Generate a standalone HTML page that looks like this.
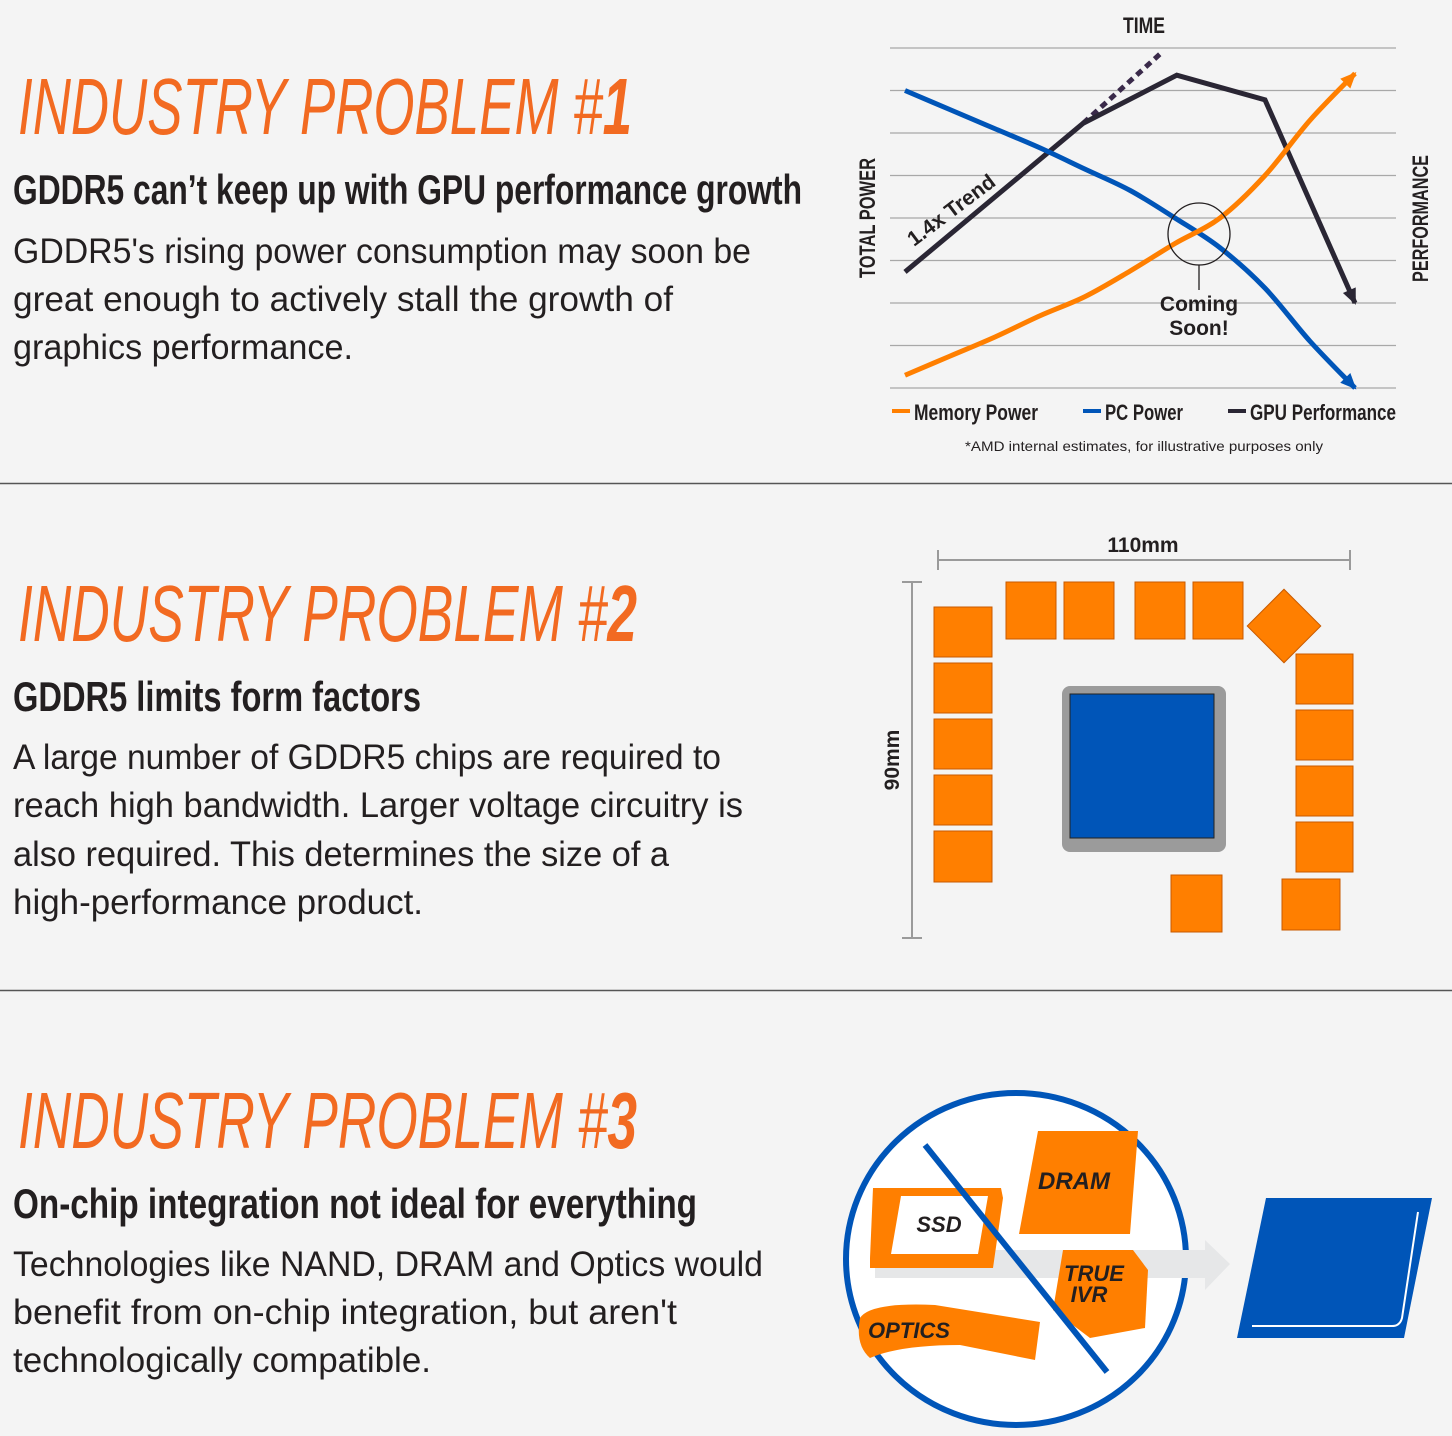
<!DOCTYPE html>
<html><head><meta charset="utf-8"><style>
html,body{margin:0;padding:0;background:#f4f4f4;}
svg{display:block;}
.h{font-family:"Liberation Sans Narrow","Liberation Sans",sans-serif;font-style:italic;fill:#f26a21;font-size:80px;}
.s{font-family:"Liberation Sans Narrow","Liberation Sans",sans-serif;font-weight:bold;fill:#231f20;font-size:42px;}
.b{font-family:"Liberation Sans Narrow","Liberation Sans",sans-serif;fill:#231f20;font-size:35px;}
.c{font-family:"Liberation Sans Narrow","Liberation Sans",sans-serif;font-weight:bold;fill:#231f20;}
</style></head><body>
<svg id="pg" width="1452" height="1436" viewBox="0 0 1452 1436" xmlns="http://www.w3.org/2000/svg">
<rect width="1452" height="1436" fill="#f4f4f4"/>
<!-- Section 1 -->
<text class="h" x="18" y="134" textLength="614" lengthAdjust="spacingAndGlyphs">INDUSTRY PROBLEM #<tspan font-weight="bold">1</tspan></text>
<text class="s" x="13" y="204" textLength="789" lengthAdjust="spacingAndGlyphs">GDDR5 can’t keep up with GPU performance growth</text>
<g>
<text class="b" x="13" y="263" textLength="738" lengthAdjust="spacingAndGlyphs">GDDR5's rising power consumption may soon be</text>
<text class="b" x="13" y="311" textLength="660" lengthAdjust="spacingAndGlyphs">great enough to actively stall the growth of</text>
<text class="b" x="13" y="359" textLength="340" lengthAdjust="spacingAndGlyphs">graphics performance.</text>
</g>
<line x1="0" y1="483.5" x2="1452" y2="483.5" stroke="#555" stroke-width="1.5"/>

<!-- Chart -->
<g id="chart">
<g id="grid"></g>
<g id="series"></g>
<text class="c" x="1123" y="33" font-size="22" textLength="42" lengthAdjust="spacingAndGlyphs">TIME</text>
<text class="c" font-size="22" textLength="120" lengthAdjust="spacingAndGlyphs" transform="translate(875,278) rotate(-90)">TOTAL POWER</text>
<text class="c" font-size="22" textLength="127" lengthAdjust="spacingAndGlyphs" transform="translate(1428,282) rotate(-90)">PERFORMANCE</text>
<text class="c" font-size="21" font-weight="normal" fill="#3a2a4a" transform="translate(914,247) rotate(-37)">1.4x Trend</text>
<circle cx="1199" cy="234" r="31" fill="none" stroke="#231f20" stroke-width="1.3"/>
<line x1="1199" y1="265" x2="1199" y2="290" stroke="#231f20" stroke-width="1.3"/>
<text class="c" x="1199" y="311" font-size="21" font-weight="normal" text-anchor="middle"><tspan x="1199">Coming</tspan><tspan x="1199" dy="24">Soon!</tspan></text>
<g>
<rect x="892" y="409" width="18" height="4" fill="#ff7f00"/>
<text class="c" x="914" y="420" font-size="22" textLength="124" lengthAdjust="spacingAndGlyphs">Memory Power</text>
<rect x="1083" y="409" width="18" height="4" fill="#0055b8"/>
<text class="c" x="1105" y="420" font-size="22" textLength="78" lengthAdjust="spacingAndGlyphs">PC Power</text>
<rect x="1228" y="409" width="18" height="4" fill="#2a2634"/>
<text class="c" x="1250" y="420" font-size="22" textLength="146" lengthAdjust="spacingAndGlyphs">GPU Performance</text>
</g>
<text x="965" y="451" font-family="Liberation Sans" font-size="14" fill="#231f20" textLength="358" lengthAdjust="spacingAndGlyphs">*AMD internal estimates, for illustrative purposes only</text>
</g>

<!-- Section 2 -->
<text class="h" x="18" y="641" textLength="619" lengthAdjust="spacingAndGlyphs">INDUSTRY PROBLEM #<tspan font-weight="bold">2</tspan></text>
<text class="s" x="13" y="711" textLength="408" lengthAdjust="spacingAndGlyphs">GDDR5 limits form factors</text>
<g>
<text class="b" x="13" y="769" textLength="708" lengthAdjust="spacingAndGlyphs">A large number of GDDR5 chips are required to</text>
<text class="b" x="13" y="817" textLength="730" lengthAdjust="spacingAndGlyphs">reach high bandwidth. Larger voltage circuitry is</text>
<text class="b" x="13" y="866" textLength="656" lengthAdjust="spacingAndGlyphs">also required. This determines the size of a</text>
<text class="b" x="13" y="914" textLength="410" lengthAdjust="spacingAndGlyphs">high-performance product.</text>
</g>
<line x1="0" y1="990.5" x2="1452" y2="990.5" stroke="#555" stroke-width="1.5"/>

<g>
<g stroke="#9a9a9a" stroke-width="2">
<line x1="938" y1="560" x2="1350" y2="560"/><line x1="938" y1="550" x2="938" y2="570"/><line x1="1350" y1="550" x2="1350" y2="570"/>
<line x1="912" y1="582" x2="912" y2="938"/><line x1="902" y1="582" x2="922" y2="582"/><line x1="902" y1="938" x2="922" y2="938"/>
</g>
<text class="c" x="1143" y="552" font-size="21" text-anchor="middle">110mm</text>
<text class="c" font-size="21" text-anchor="middle" transform="translate(899,760) rotate(-90)">90mm</text>
<g fill="#ff7f00" stroke="#c85a00" stroke-width="1">
<rect x="934" y="607" width="58" height="50"/><rect x="934" y="663" width="58" height="50"/><rect x="934" y="719" width="58" height="50"/><rect x="934" y="775" width="58" height="50"/><rect x="934" y="831" width="58" height="51"/>
<rect x="1006" y="582" width="50" height="57"/><rect x="1064" y="582" width="50" height="57"/><rect x="1135" y="582" width="50" height="57"/><rect x="1193" y="582" width="50" height="57"/>
<rect x="1258" y="600" width="52" height="52" transform="rotate(45 1284 626)"/>
<rect x="1296" y="654" width="57" height="50"/><rect x="1296" y="710" width="57" height="50"/><rect x="1296" y="766" width="57" height="50"/><rect x="1296" y="822" width="57" height="50"/>
<rect x="1282" y="879" width="58" height="51"/><rect x="1171" y="875" width="51" height="57"/>
</g>
<rect x="1062" y="686" width="164" height="166" rx="8" fill="#9b9b9b"/>
<rect x="1070" y="694" width="144" height="144" fill="#0055b8" stroke="#222" stroke-width="1"/>
</g>

<!-- Section 3 -->
<text class="h" x="18" y="1148" textLength="619" lengthAdjust="spacingAndGlyphs">INDUSTRY PROBLEM #<tspan font-weight="bold">3</tspan></text>
<text class="s" x="13" y="1218" textLength="684" lengthAdjust="spacingAndGlyphs">On-chip integration not ideal for everything</text>
<g>
<text class="b" x="13" y="1276" textLength="750" lengthAdjust="spacingAndGlyphs">Technologies like NAND, DRAM and Optics would</text>
<text class="b" x="13" y="1324" textLength="664" lengthAdjust="spacingAndGlyphs">benefit from on-chip integration, but aren't</text>
<text class="b" x="13" y="1372" textLength="418" lengthAdjust="spacingAndGlyphs">technologically compatible.</text>
</g>

<g>
<ellipse cx="1016" cy="1259" rx="170" ry="166" fill="#fff" stroke="#0055b8" stroke-width="6"/>
<polygon points="875,1250 1205,1250 1205,1240 1230,1264 1205,1290 1205,1278 875,1278" fill="#e6e7e8"/>
<polygon points="1038,1131 1138,1131 1130,1234 1019,1234" fill="#ff7f00"/>
<text class="c" x="1074" y="1189" font-size="24" font-style="italic" text-anchor="middle">DRAM</text>
<polygon points="873,1188 1001,1188 1003,1198 993,1268 870,1268 870,1258" fill="#ff7f00"/>
<polygon points="901,1196 988,1196 978,1254 891,1254" fill="#fff"/>
<text class="c" x="939" y="1232" font-size="22" font-style="italic" text-anchor="middle">SSD</text>
<polygon points="1063,1250 1133,1250 1148,1270 1145,1328 1090,1338 1053,1310" fill="#ff7f00"/>
<text class="c" x="1094" y="1281" font-size="22" font-style="italic" text-anchor="middle"><tspan x="1094">TRUE</tspan><tspan x="1089" dy="21">IVR</tspan></text>
<path d="M860,1318 Q870,1302 935,1305 L1040,1322 L1035,1360 L960,1345 Q900,1345 870,1358 Q855,1345 860,1318Z" fill="#ff7f00"/>
<text class="c" x="868" y="1338" font-size="22" font-style="italic">OPTICS</text>
<line x1="925" y1="1145" x2="1107" y2="1372" stroke="#0055b8" stroke-width="6"/>
<polygon points="1266,1198 1432,1198 1404,1338 1237,1338" fill="#0055b8"/>
<path d="M1418,1212 L1402,1318 Q1400,1326 1392,1326 L1252,1326" fill="none" stroke="#fff" stroke-width="2"/>
</g>
</svg>
<script>
// Chart data
const tValues = [0,1,2,3,4,5,6,7,8,9,10];
const memoryPower = [0.3,0.75,1.2,1.7,2.15,2.75,3.4,4.0,5.0,6.3,7.4];
const pcPower = [7.0,6.55,6.1,5.65,5.15,4.65,4.0,3.3,2.35,1.1,0.0];
const gpuT = [0,3.96,6.04,8.0,10];
const gpuPerf = [2.73,6.23,7.36,6.78,2.0];
const trendT = [3.96,5.69];
const trendVal = [6.23,7.88];
const gridLevels = [0,1,2,3,4,5,6,7,8];

const NS = "http://www.w3.org/2000/svg";
const xS = t => 905 + t * 45;
const yS = v => 388 - v * 42.5;
const grid = document.getElementById('grid');
const ser = document.getElementById('series');

gridLevels.forEach(g => {
  const l = document.createElementNS(NS, 'line');
  l.setAttribute('x1', 890); l.setAttribute('x2', 1396);
  l.setAttribute('y1', yS(g)); l.setAttribute('y2', yS(g));
  l.setAttribute('stroke', '#a8a8a8'); l.setAttribute('stroke-width', '1.3');
  
  
  grid.appendChild(l);
});

function smoothPath(xs, ys) {
  const p = xs.map((x, i) => [xS(x), yS(ys[i])]);
  let d = 'M' + p[0][0] + ',' + p[0][1];
  for (let i = 0; i < p.length - 1; i++) {
    const p0 = p[i - 1] || p[i], p1 = p[i], p2 = p[i + 1], p3 = p[i + 2] || p2;
    const c1x = p1[0] + (p2[0] - p0[0]) / 6, c1y = p1[1] + (p2[1] - p0[1]) / 6;
    const c2x = p2[0] - (p3[0] - p1[0]) / 6, c2y = p2[1] - (p3[1] - p1[1]) / 6;
    d += ' C' + c1x + ',' + c1y + ' ' + c2x + ',' + c2y + ' ' + p2[0] + ',' + p2[1];
  }
  return d;
}
function arrowHead(xs, ys, color) {
  const n = xs.length;
  const x2 = xS(xs[n - 1]), y2 = yS(ys[n - 1]), x1 = xS(xs[n - 2]), y1 = yS(ys[n - 2]);
  const a = Math.atan2(y2 - y1, x2 - x1);
  const L = 14, W = 7;
  const bx = x2 - L * Math.cos(a), by = y2 - L * Math.sin(a);
  const pts = [x2 + 2 * Math.cos(a), y2 + 2 * Math.sin(a), bx + W * Math.sin(a), by - W * Math.cos(a), bx - W * Math.sin(a), by + W * Math.cos(a)];
  const pg = document.createElementNS(NS, 'polygon');
  pg.setAttribute('points', pts.join(' '));
  pg.setAttribute('fill', color);
  return pg;
}
function addPath(d, color, name, dash) {
  const p = document.createElementNS(NS, 'path');
  p.setAttribute('d', d); p.setAttribute('fill', 'none');
  p.setAttribute('stroke', color); p.setAttribute('stroke-width', '5');
  if (dash) p.setAttribute('stroke-dasharray', dash);
  
  
  ser.appendChild(p);
}
addPath('M' + trendT.map((t, i) => xS(t) + ',' + yS(trendVal[i])).join(' L'), '#3a2a4a', 'trend-line-dashed', '7,5');
addPath('M' + gpuT.map((t, i) => xS(t) + ',' + yS(gpuPerf[i])).join(' L'), '#2a2634', 'gpu-performance-line');
const ga = arrowHead(gpuT, gpuPerf, '#2a2634');


ser.appendChild(ga);
addPath(smoothPath(tValues, pcPower), '#0055b8', 'pc-power-line');
const ba = arrowHead(tValues, pcPower, '#0055b8');


ser.appendChild(ba);
addPath(smoothPath(tValues, memoryPower), '#ff7f00', 'memory-power-line');
const oa = arrowHead(tValues, memoryPower, '#ff7f00');


ser.appendChild(oa);
</script>
</body></html>
